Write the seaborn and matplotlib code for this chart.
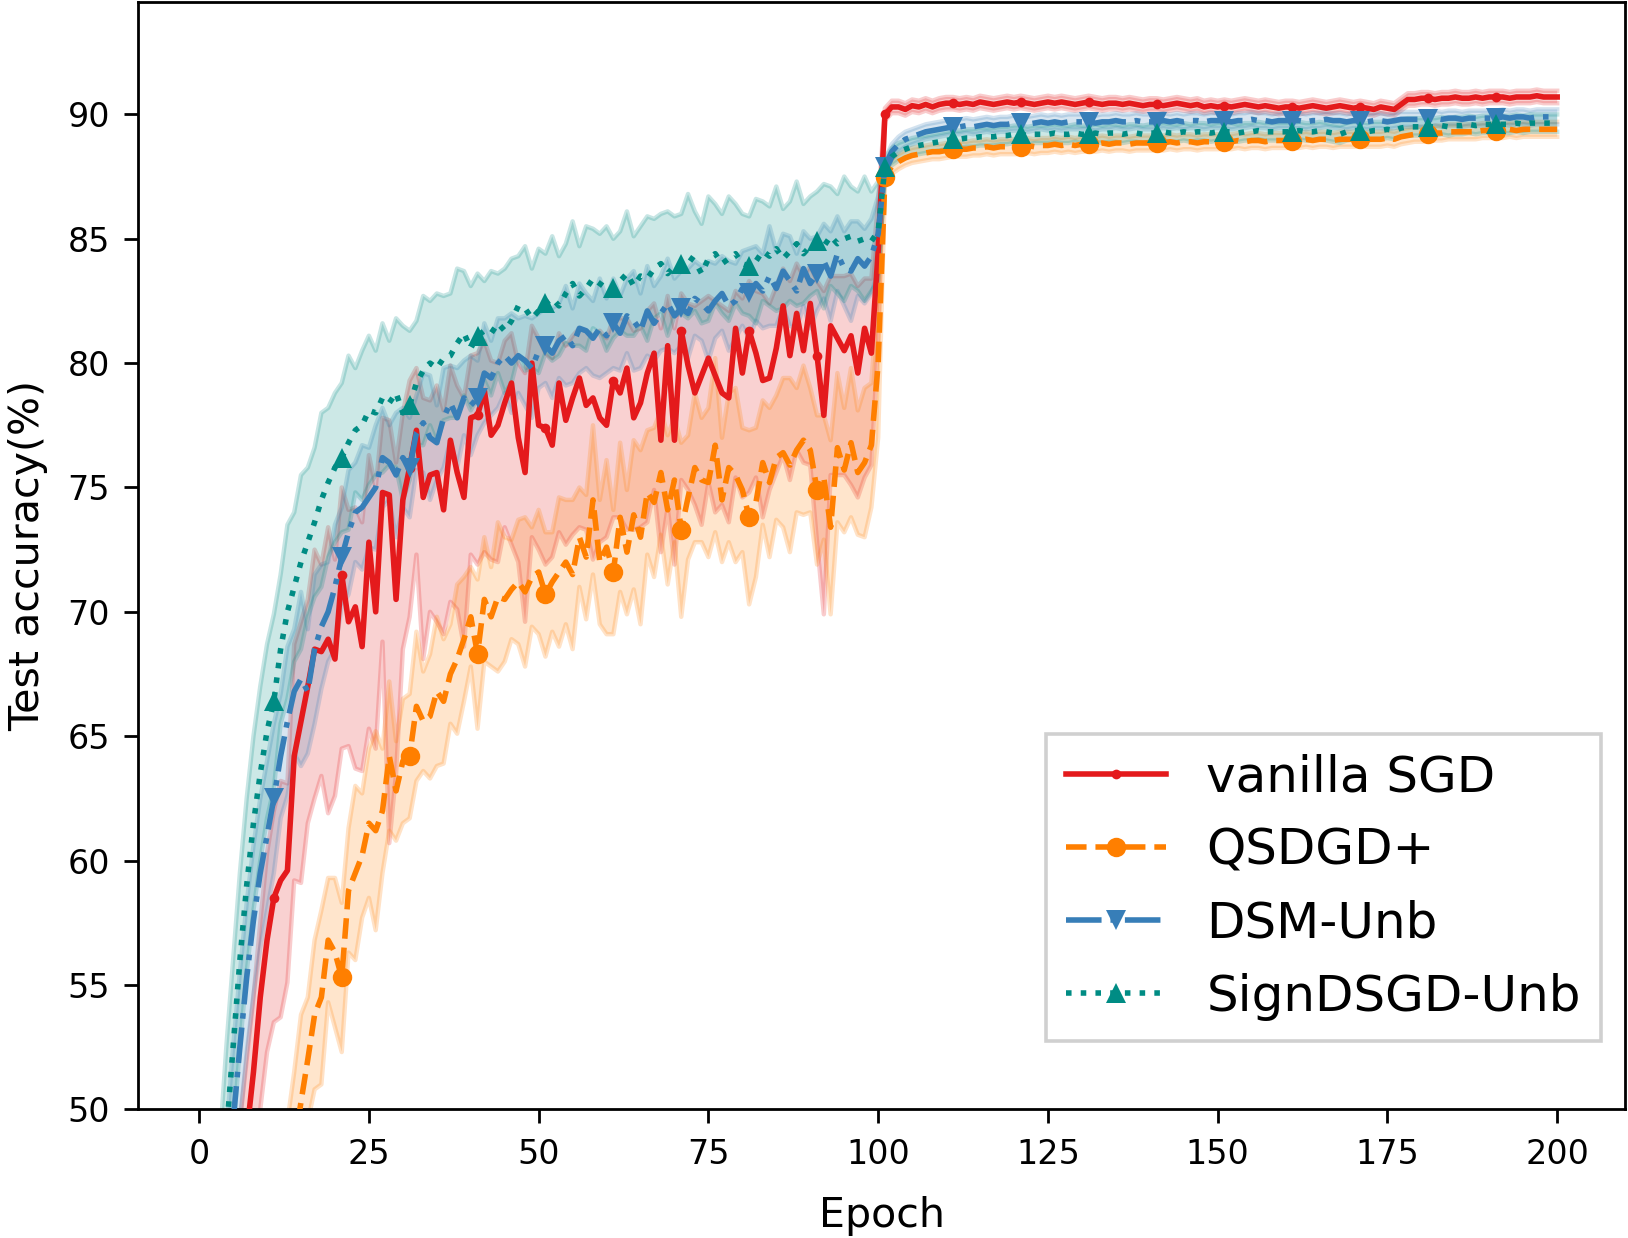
import numpy as np
import matplotlib
matplotlib.use("Agg")
import matplotlib.pyplot as plt
import seaborn as sns

# ------------------------------------------------------------
# Test accuracy (%) per epoch, epochs 1..200
# ------------------------------------------------------------
epochs = np.arange(1, 201)

sgd_acc = [
    25.0, 33.0, 38.0, 42.0, 45.0, 47.0, 49.0, 51.5, 54.5, 56.8,
    58.5, 59.2, 59.6, 64.2, 65.6, 67.0, 68.5, 68.4, 68.9, 68.1,
    71.5, 69.6, 70.2, 68.6, 72.8, 70.0, 74.8, 74.7, 70.5, 74.5,
    75.8, 77.3, 74.6, 75.5, 75.6, 74.1, 76.9, 75.6, 74.6, 77.8,
    77.9, 78.9, 77.1, 77.5, 78.4, 79.2, 77.0, 75.6, 80.0, 77.5,
    77.4, 76.7, 79.2, 77.7, 78.6, 79.4, 78.3, 78.6, 77.8, 77.5,
    79.3, 78.8, 79.8, 77.8, 78.4, 79.6, 80.4, 76.9, 80.7, 76.9,
    81.3, 79.9, 78.8, 79.5, 80.2, 79.5, 78.8, 78.6, 81.4, 79.6,
    81.3, 80.4, 79.3, 79.4, 80.6, 82.3, 80.3, 82.0, 80.5, 82.4,
    80.3, 77.9, 81.5, 81.0, 80.5, 81.1, 79.6, 81.4, 80.4, 84.5,
    90.0, 90.3, 90.3, 90.2, 90.35, 90.3, 90.4, 90.3, 90.4, 90.45,
    90.45, 90.4, 90.45, 90.4, 90.5, 90.45, 90.4, 90.45, 90.5, 90.45,
    90.5, 90.45, 90.4, 90.45, 90.5, 90.45, 90.5, 90.45, 90.4, 90.45,
    90.5, 90.45, 90.4, 90.45, 90.45, 90.4, 90.45, 90.4, 90.35, 90.4,
    90.4, 90.35, 90.4, 90.45, 90.4, 90.35, 90.4, 90.3, 90.35, 90.3,
    90.35, 90.3, 90.35, 90.4, 90.35, 90.3, 90.35, 90.3, 90.25, 90.3,
    90.3, 90.25, 90.3, 90.35, 90.3, 90.25, 90.3, 90.35, 90.3, 90.25,
    90.3, 90.25, 90.2, 90.3, 90.25, 90.2, 90.4, 90.6, 90.6, 90.65,
    90.65, 90.6, 90.65, 90.65, 90.7, 90.65, 90.65, 90.7, 90.65, 90.7,
    90.7, 90.7, 90.65, 90.7, 90.7, 90.7, 90.75, 90.7, 90.7, 90.7,
]

qsdgd_acc = [
    18.0, 22.0, 26.0, 29.5, 32.5, 35.0, 37.5, 39.5, 41.5, 43.0,
    44.5, 45.5, 47.0, 48.5, 50.3, 52.0, 53.8, 54.5, 56.8, 56.3,
    55.3, 58.8, 59.5, 60.2, 61.5, 61.2, 62.0, 64.2, 62.8, 64.0,
    64.2, 66.2, 65.6, 65.8, 66.8, 66.4, 67.5, 68.1, 68.9, 69.8,
    68.3, 70.5, 69.8, 70.6, 70.5, 70.9, 71.2, 70.8, 71.4, 71.6,
    70.7, 71.2, 71.6, 72.0, 71.5, 73.0, 72.2, 74.5, 72.0, 72.6,
    71.6, 73.8, 72.4, 73.9, 73.0, 74.8, 74.4, 75.6, 74.1, 75.3,
    73.3, 74.6, 75.8, 75.3, 75.2, 76.7, 74.5, 75.8, 75.5, 74.9,
    73.8, 74.4, 76.0, 75.2, 76.2, 76.4, 75.9, 76.5, 76.9, 76.5,
    74.9, 75.4, 73.4, 76.6, 75.7, 76.8, 75.6, 76.0, 76.7, 80.0,
    87.5, 87.9, 88.1, 88.25, 88.35, 88.4, 88.45, 88.5, 88.5, 88.55,
    88.6, 88.6, 88.6, 88.65, 88.65, 88.7, 88.65, 88.7, 88.7, 88.7,
    88.7, 88.75, 88.7, 88.75, 88.75, 88.8, 88.75, 88.8, 88.75, 88.8,
    88.8, 88.8, 88.85, 88.8, 88.85, 88.85, 88.8, 88.85, 88.85, 88.85,
    88.85, 88.85, 88.9, 88.85, 88.9, 88.9, 88.85, 88.9, 88.9, 88.9,
    88.9, 88.9, 88.95, 88.9, 88.95, 88.95, 88.9, 88.95, 88.95, 88.95,
    88.95, 88.95, 89.0, 88.95, 89.0, 89.0, 88.95, 89.0, 89.0, 89.0,
    89.0, 89.0, 89.0, 89.0, 89.05, 89.0, 89.1, 89.15, 89.2, 89.2,
    89.2, 89.25, 89.25, 89.3, 89.3, 89.3, 89.3, 89.3, 89.35, 89.35,
    89.35, 89.35, 89.4, 89.35, 89.4, 89.4, 89.4, 89.4, 89.4, 89.4,
]

dsm_acc = [
    30.0, 37.0, 42.0, 46.0, 49.5, 52.5, 55.3, 57.6, 59.5, 61.0,
    62.5, 64.2, 65.6, 66.8, 67.3, 66.8, 68.5, 69.4, 70.0, 71.0,
    72.2, 73.2, 74.0, 74.2, 74.6, 75.0, 76.2, 76.0, 75.5, 76.2,
    75.8, 77.2, 77.6, 77.0, 76.8, 77.8, 78.4, 77.8, 78.6, 78.3,
    78.6, 79.6, 79.4, 80.0, 80.3, 80.0, 80.3, 80.1, 79.8, 80.5,
    80.7, 80.4, 80.9, 81.1, 80.7, 81.4, 81.3, 81.0, 81.4, 81.1,
    81.6, 81.2, 81.9, 81.7, 81.3, 82.1, 81.6, 82.0, 82.4, 81.9,
    82.2, 82.0, 82.6, 82.4, 82.1, 82.5, 82.8, 82.3, 82.5, 83.0,
    82.8, 83.2, 82.9, 83.5, 83.0, 83.7, 83.3, 82.9, 83.8, 83.2,
    83.6, 84.1, 83.5, 84.4, 83.8, 83.7, 84.2, 83.9, 84.3, 85.2,
    87.9, 88.5, 88.8, 89.0, 89.1, 89.2, 89.3, 89.35, 89.4, 89.45,
    89.5, 89.5, 89.55, 89.5, 89.55, 89.6, 89.55, 89.6, 89.6, 89.65,
    89.65, 89.6, 89.65, 89.7, 89.65, 89.7, 89.65, 89.7, 89.7, 89.7,
    89.7, 89.65, 89.7, 89.7, 89.75, 89.7, 89.7, 89.75, 89.7, 89.7,
    89.7, 89.75, 89.7, 89.75, 89.7, 89.75, 89.75, 89.7, 89.75, 89.75,
    89.75, 89.7, 89.75, 89.75, 89.8, 89.75, 89.75, 89.7, 89.75, 89.75,
    89.75, 89.75, 89.7, 89.75, 89.75, 89.8, 89.75, 89.75, 89.7, 89.75,
    89.75, 89.7, 89.75, 89.75, 89.7, 89.75, 89.8, 89.8, 89.8, 89.8,
    89.8, 89.85, 89.8, 89.85, 89.85, 89.8, 89.85, 89.85, 89.85, 89.85,
    89.85, 89.9, 89.85, 89.9, 89.9, 89.85, 89.9, 89.9, 89.9, 89.9,
]

signdsgd_acc = [
    33.0, 40.0, 45.0, 49.0, 52.5, 56.0, 59.0, 61.5, 63.5, 65.2,
    66.4, 68.5, 70.0, 71.0, 72.0, 72.8, 73.6, 74.5, 75.2, 75.8,
    76.2, 76.8, 77.3, 77.5, 78.1, 78.0, 78.6, 78.4, 78.8, 78.0,
    78.3, 79.2, 79.7, 80.0, 79.8, 80.2, 80.3, 80.8, 81.2, 80.6,
    81.1, 81.3, 81.2, 81.6, 81.3, 81.7, 82.3, 82.2, 81.8, 82.1,
    82.4, 82.6, 82.3, 82.8, 83.2, 82.7, 83.0, 83.4, 83.2, 83.0,
    83.0, 83.3, 83.6, 83.1, 83.5, 83.4, 83.8, 84.0, 83.6, 83.9,
    84.0, 84.3, 84.1, 83.6, 84.2, 84.4, 84.0, 84.2, 84.4, 84.0,
    83.9, 84.1, 84.5, 84.3, 84.6, 84.2, 84.5, 84.8, 84.4, 84.7,
    84.9, 84.7, 85.1, 84.8, 85.0, 85.1, 84.9, 85.0, 84.9, 85.3,
    87.9, 88.3, 88.5, 88.6, 88.7, 88.75, 88.8, 88.85, 88.9, 88.95,
    89.0, 89.0, 89.05, 89.05, 89.1, 89.1, 89.1, 89.15, 89.15, 89.2,
    89.2, 89.15, 89.2, 89.2, 89.2, 89.25, 89.2, 89.2, 89.25, 89.2,
    89.2, 89.25, 89.2, 89.25, 89.25, 89.2, 89.25, 89.25, 89.2, 89.25,
    89.25, 89.3, 89.25, 89.25, 89.3, 89.25, 89.3, 89.3, 89.25, 89.3,
    89.3, 89.3, 89.25, 89.3, 89.3, 89.35, 89.3, 89.3, 89.3, 89.3,
    89.3, 89.35, 89.3, 89.3, 89.35, 89.3, 89.25, 89.2, 89.3, 89.35,
    89.35, 89.3, 89.35, 89.35, 89.4, 89.35, 89.45, 89.5, 89.5, 89.5,
    89.5, 89.5, 89.55, 89.5, 89.55, 89.55, 89.6, 89.55, 89.6, 89.6,
    89.6, 89.6, 89.6, 89.65, 89.6, 89.65, 89.65, 89.65, 89.65, 89.65,
]

# band offsets below / above the mean, epochs 1..100 (constant after the LR drop)
sgd_lo = [
    3.0, 3.0, 3.0, 3.0, 3.5, 3.5, 4.0, 4.0, 4.5, 4.5,
    5.0, 5.5, 4.5, 5.0, 6.5, 5.5, 6.0, 5.0, 7.0, 5.5,
    7.0, 5.0, 6.5, 5.0, 7.5, 5.5, 6.0, 14.0, 7.0, 6.0,
    6.0, 5.0, 6.5, 5.5, 6.0, 5.0, 6.5, 5.5, 6.0, 5.5,
    6.0, 6.5, 5.0, 5.5, 5.0, 6.5, 5.0, 6.0, 7.0, 5.0,
    5.5, 4.5, 6.0, 5.0, 5.5, 6.0, 5.0, 6.5, 5.0, 4.5,
    5.5, 5.0, 6.5, 4.5, 5.0, 6.0, 5.5, 4.5, 6.5, 5.0,
    6.0, 5.0, 4.5, 6.0, 5.0, 5.5, 4.5, 5.0, 6.0, 5.0,
    6.5, 5.0, 5.5, 4.5, 5.0, 6.0, 5.0, 5.5, 4.5, 6.5,
    7.5, 8.0, 6.0, 5.5, 5.0, 6.0, 5.0, 6.0, 4.5, 3.5,
]
sgd_hi = [
    2.5, 2.5, 2.5, 2.5, 2.5, 2.5, 3.0, 3.0, 3.0, 3.5,
    3.5, 4.0, 3.5, 4.5, 4.0, 3.5, 4.0, 3.5, 4.5, 4.0,
    3.5, 4.5, 4.0, 5.0, 3.5, 5.0, 3.0, 3.0, 5.5, 3.5,
    3.5, 2.5, 4.0, 3.0, 3.5, 4.0, 3.0, 3.5, 4.0, 2.5,
    2.5, 2.0, 3.0, 2.5, 2.5, 2.0, 3.0, 4.0, 1.5, 3.5,
    3.0, 3.5, 2.0, 3.0, 2.5, 2.0, 3.0, 2.5, 3.5, 3.5,
    2.5, 3.0, 2.0, 3.5, 3.0, 2.5, 2.0, 4.5, 2.0, 4.5,
    1.5, 2.5, 3.5, 3.0, 2.5, 3.0, 3.5, 3.5, 1.5, 3.0,
    2.0, 2.5, 3.5, 3.0, 2.5, 1.5, 3.0, 2.0, 3.0, 1.5,
    3.0, 5.0, 2.0, 2.5, 3.0, 2.5, 3.5, 2.0, 3.0, 2.0,
]
qsdgd_spread = [
    2.5, 2.5, 2.5, 2.5, 2.5, 2.5, 2.5, 2.5, 2.5, 2.5,
    2.5, 3.0, 2.5, 3.0, 3.5, 2.5, 3.0, 3.5, 2.5, 3.0,
    3.0, 2.5, 3.5, 2.5, 3.0, 4.0, 2.5, 3.0, 2.0, 2.5,
    2.5, 3.0, 2.0, 2.5, 3.0, 2.5, 2.0, 3.0, 2.5, 2.0,
    3.0, 2.5, 2.0, 3.0, 2.5, 2.0, 2.5, 3.0, 2.0, 2.5,
    2.5, 2.0, 3.0, 2.5, 3.0, 2.0, 2.5, 3.0, 2.5, 3.5,
    2.5, 3.0, 2.5, 3.0, 3.5, 2.5, 3.0, 2.5, 3.0, 2.5,
    3.5, 2.5, 3.0, 2.5, 3.0, 3.5, 2.5, 3.0, 3.5, 2.5,
    3.5, 3.0, 2.5, 3.0, 2.5, 3.0, 3.5, 2.5, 3.0, 2.5,
    3.0, 2.5, 3.5, 3.0, 2.5, 3.0, 2.5, 3.0, 2.5, 3.0,
]
dsm_spread = [
    3.0, 3.0, 3.0, 3.0, 3.0, 3.0, 3.0, 3.0, 3.0, 3.0,
    3.0, 2.5, 3.0, 2.5, 3.5, 2.5, 3.0, 2.5, 2.0, 2.5,
    2.0, 2.5, 2.0, 2.5, 2.0, 2.5, 2.0, 1.5, 2.5, 2.0,
    2.0, 1.5, 2.0, 2.5, 1.5, 2.0, 1.5, 2.0, 1.5, 2.0,
    1.5, 2.0, 1.5, 1.8, 1.5, 2.0, 1.5, 1.8, 2.0, 1.5,
    1.5, 1.8, 1.5, 2.0, 1.5, 1.8, 1.5, 1.5, 2.0, 1.5,
    1.8, 1.5, 1.5, 2.0, 1.5, 1.8, 1.5, 1.5, 1.8, 1.5,
    1.5, 1.8, 1.5, 1.5, 2.0, 1.5, 1.5, 1.8, 1.5, 1.5,
    1.8, 1.5, 1.5, 2.0, 1.5, 1.5, 1.8, 1.5, 1.5, 1.8,
    1.5, 1.5, 1.8, 1.5, 1.5, 2.0, 1.5, 1.5, 1.5, 1.5,
]
signdsgd_spread = [
    3.5, 3.5, 3.5, 3.5, 3.5, 3.5, 3.5, 3.5, 3.5, 3.5,
    3.5, 3.0, 3.5, 3.0, 3.5, 3.0, 3.0, 3.5, 3.0, 3.0,
    3.0, 3.5, 2.5, 3.0, 3.0, 2.5, 3.0, 2.5, 3.0, 3.5,
    3.0, 2.5, 3.0, 2.5, 3.0, 2.5, 2.5, 3.0, 2.5, 2.5,
    2.5, 2.0, 2.5, 2.0, 2.5, 2.5, 2.0, 2.5, 2.0, 2.5,
    2.0, 2.5, 2.0, 2.0, 2.5, 2.0, 2.5, 2.0, 2.0, 2.5,
    2.0, 2.0, 2.5, 2.0, 2.0, 2.5, 2.0, 2.0, 2.5, 2.0,
    2.0, 2.5, 2.0, 2.0, 2.5, 2.0, 2.0, 2.5, 2.0, 2.0,
    2.0, 2.5, 2.0, 2.0, 2.5, 2.0, 2.0, 2.5, 2.0, 2.0,
    2.0, 2.5, 2.0, 2.0, 2.5, 2.0, 2.0, 2.5, 2.0, 2.0,
]
late_spread = [0.25, 0.3, 0.3, 0.35]

labels = ["vanilla SGD", "QSDGD+", "DSM-Unb", "SignDSGD-Unb"]
colors = ["#e41a1c", "#ff7f00", "#377eb8", "#008c84"]
styles = ["-", "--", "-.", ":"]
markers = [".", "o", "v", "^"]
msizes = [7, 7, 7.5, 7.5]

accs = [sgd_acc, qsdgd_acc, dsm_acc, signdsgd_acc]
lows = [sgd_lo, qsdgd_spread, dsm_spread, signdsgd_spread]
highs = [sgd_hi, qsdgd_spread, dsm_spread, signdsgd_spread]

# ------------------------------------------------------------
# Figure
# ------------------------------------------------------------
dpi = 200
fig, ax = plt.subplots(figsize=(1628 / dpi, 1238 / dpi), dpi=dpi)
fig.subplots_adjust(left=0.085, right=0.998, top=0.998, bottom=0.104)

# shaded bands first
for acc, lo, hi, late, c in zip(accs, lows, highs, late_spread, colors):
    acc = np.asarray(acc)
    lower = acc - np.r_[lo, np.full(100, late)]
    upper = acc + np.r_[hi, np.full(100, late)]
    ax.fill_between(epochs, lower, upper, facecolor=c, alpha=0.2,
                    edgecolor="none", zorder=1)
    ax.plot(epochs, lower, color=c, alpha=0.22, lw=1.6, zorder=1)
    ax.plot(epochs, upper, color=c, alpha=0.22, lw=1.6, zorder=1)

# mean curves
for acc, lab, c, ls, mk, ms in zip(accs, labels, colors, styles, markers, msizes):
    sns.lineplot(x=epochs, y=acc, ax=ax, color=c, linestyle=ls, lw=2.0,
                 marker=mk, markevery=10, markersize=ms, markeredgewidth=0,
                 label=lab, zorder=3)

ax.set_ylim(50, 94.5)
ax.set_xticks(np.arange(0, 201, 25))
ax.set_yticks(np.arange(50, 91, 5))
ax.tick_params(labelsize=12, length=5.2, width=1.0, pad=5)
for sp in ax.spines.values():
    sp.set_linewidth(1.0)
ax.set_xlabel("Epoch", fontsize=14.8, labelpad=9)
ax.set_ylabel("Test accuracy(%)", fontsize=14.8, labelpad=7)

leg = ax.legend(loc="lower right", bbox_to_anchor=(0.984, 0.062),
                borderaxespad=0, fontsize=18, fancybox=False, framealpha=1)
leg.get_frame().set_edgecolor("#d0d0d0")
leg.get_frame().set_linewidth(1.3)

fig.savefig("out.png", dpi=dpi)
